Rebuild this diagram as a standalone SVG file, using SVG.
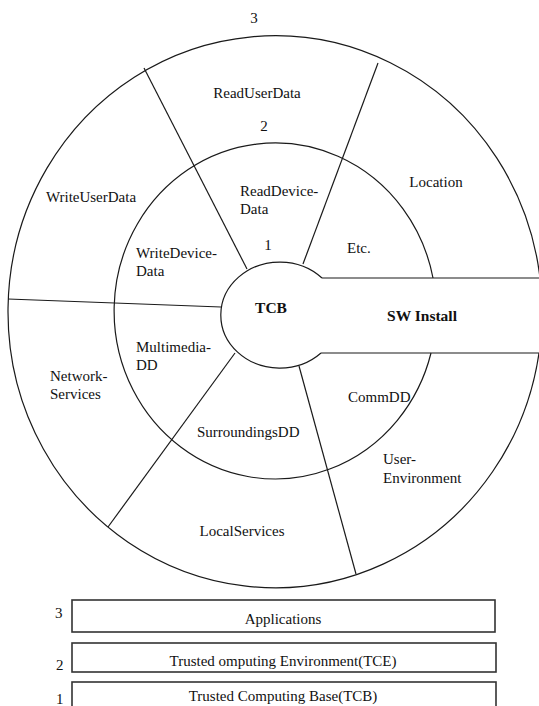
<svg xmlns="http://www.w3.org/2000/svg" width="539" height="706" viewBox="0 0 539 706">
<style>
.ln{fill:none;stroke:#1a1a1a;stroke-width:1.2}
.bx{fill:#fff;stroke:#333;stroke-width:1.6}
.t{font-size:15px;fill:#111}
.b{font-size:15.5px;font-weight:bold;fill:#111}
.m{text-anchor:middle}
</style>
<rect width="539" height="706" fill="#fff"/>
<g id="rings">
<path class="ln" d="M540 278 A267 276 0 1 0 539 353"/>
<path class="ln" d="M433 278 A161 168 0 1 0 431 353"/>
<path class="ln" d="M322 278 A59 53 0 1 0 321 353"/>
<path class="ln" d="M322 278 H539 M321 353 H539"/>
</g>
<g id="connectors">
<path class="ln" d="M144 68 L247 269"/>
<path class="ln" d="M378 63 L303 264"/>
<path class="ln" d="M8 299 L221 307"/>
<path class="ln" d="M235 353 L108 527"/>
<path class="ln" d="M299 366 L356 574"/>
</g>
<g id="labels" font-family="Liberation Serif, DejaVu Serif, Times New Roman, serif">
<g id="ring-labels">
<text class="t m" x="254" y="23">3</text>
<text class="t m" x="264" y="131">2</text>
<text class="t m" x="268" y="250">1</text>
</g>
<g id="tcb"><text class="b m" x="271" y="313">TCB</text></g>
<g id="sw-install"><text class="b m" x="422" y="321">SW Install</text></g>
<g id="read-user-data"><text class="t m" x="257" y="98">ReadUserData</text></g>
<g id="location"><text class="t m" x="436" y="187">Location</text></g>
<g id="write-user-data"><text class="t m" x="91" y="202">WriteUserData</text></g>
<g id="network-services"><text class="t" x="50" y="381">Network-</text><text class="t" x="50" y="399">Services</text></g>
<g id="local-services"><text class="t m" x="242" y="536">LocalServices</text></g>
<g id="user-environment"><text class="t" x="383" y="464">User-</text><text class="t" x="383" y="483">Environment</text></g>
<g id="read-device-data"><text class="t" x="240" y="196">ReadDevice-</text><text class="t" x="240" y="214">Data</text></g>
<g id="etc"><text class="t" x="347" y="253">Etc.</text></g>
<g id="write-device-data"><text class="t" x="136" y="258">WriteDevice-</text><text class="t" x="136" y="276">Data</text></g>
<g id="multimedia-dd"><text class="t" x="136" y="352">Multimedia-</text><text class="t" x="136" y="370">DD</text></g>
<g id="surroundings-dd"><text class="t" x="197" y="437">SurroundingsDD</text></g>
<g id="comm-dd"><text class="t" x="348" y="402">CommDD</text></g>
<g id="box-applications"><rect class="bx" x="72" y="600" width="423" height="32"/><text class="t m" x="283" y="624">Applications</text><text class="t" x="55" y="618">3</text></g>
<g id="box-tce"><rect class="bx" x="72" y="643" width="424" height="29"/><text class="t m" x="283" y="666">Trusted omputing Environment(TCE)</text><text class="t" x="56" y="670">2</text></g>
<g id="box-tcb"><rect class="bx" x="72" y="682" width="424" height="30"/><text class="t m" x="283" y="701">Trusted Computing Base(TCB)</text><text class="t" x="56" y="704">1</text></g>
</g>
</svg>
